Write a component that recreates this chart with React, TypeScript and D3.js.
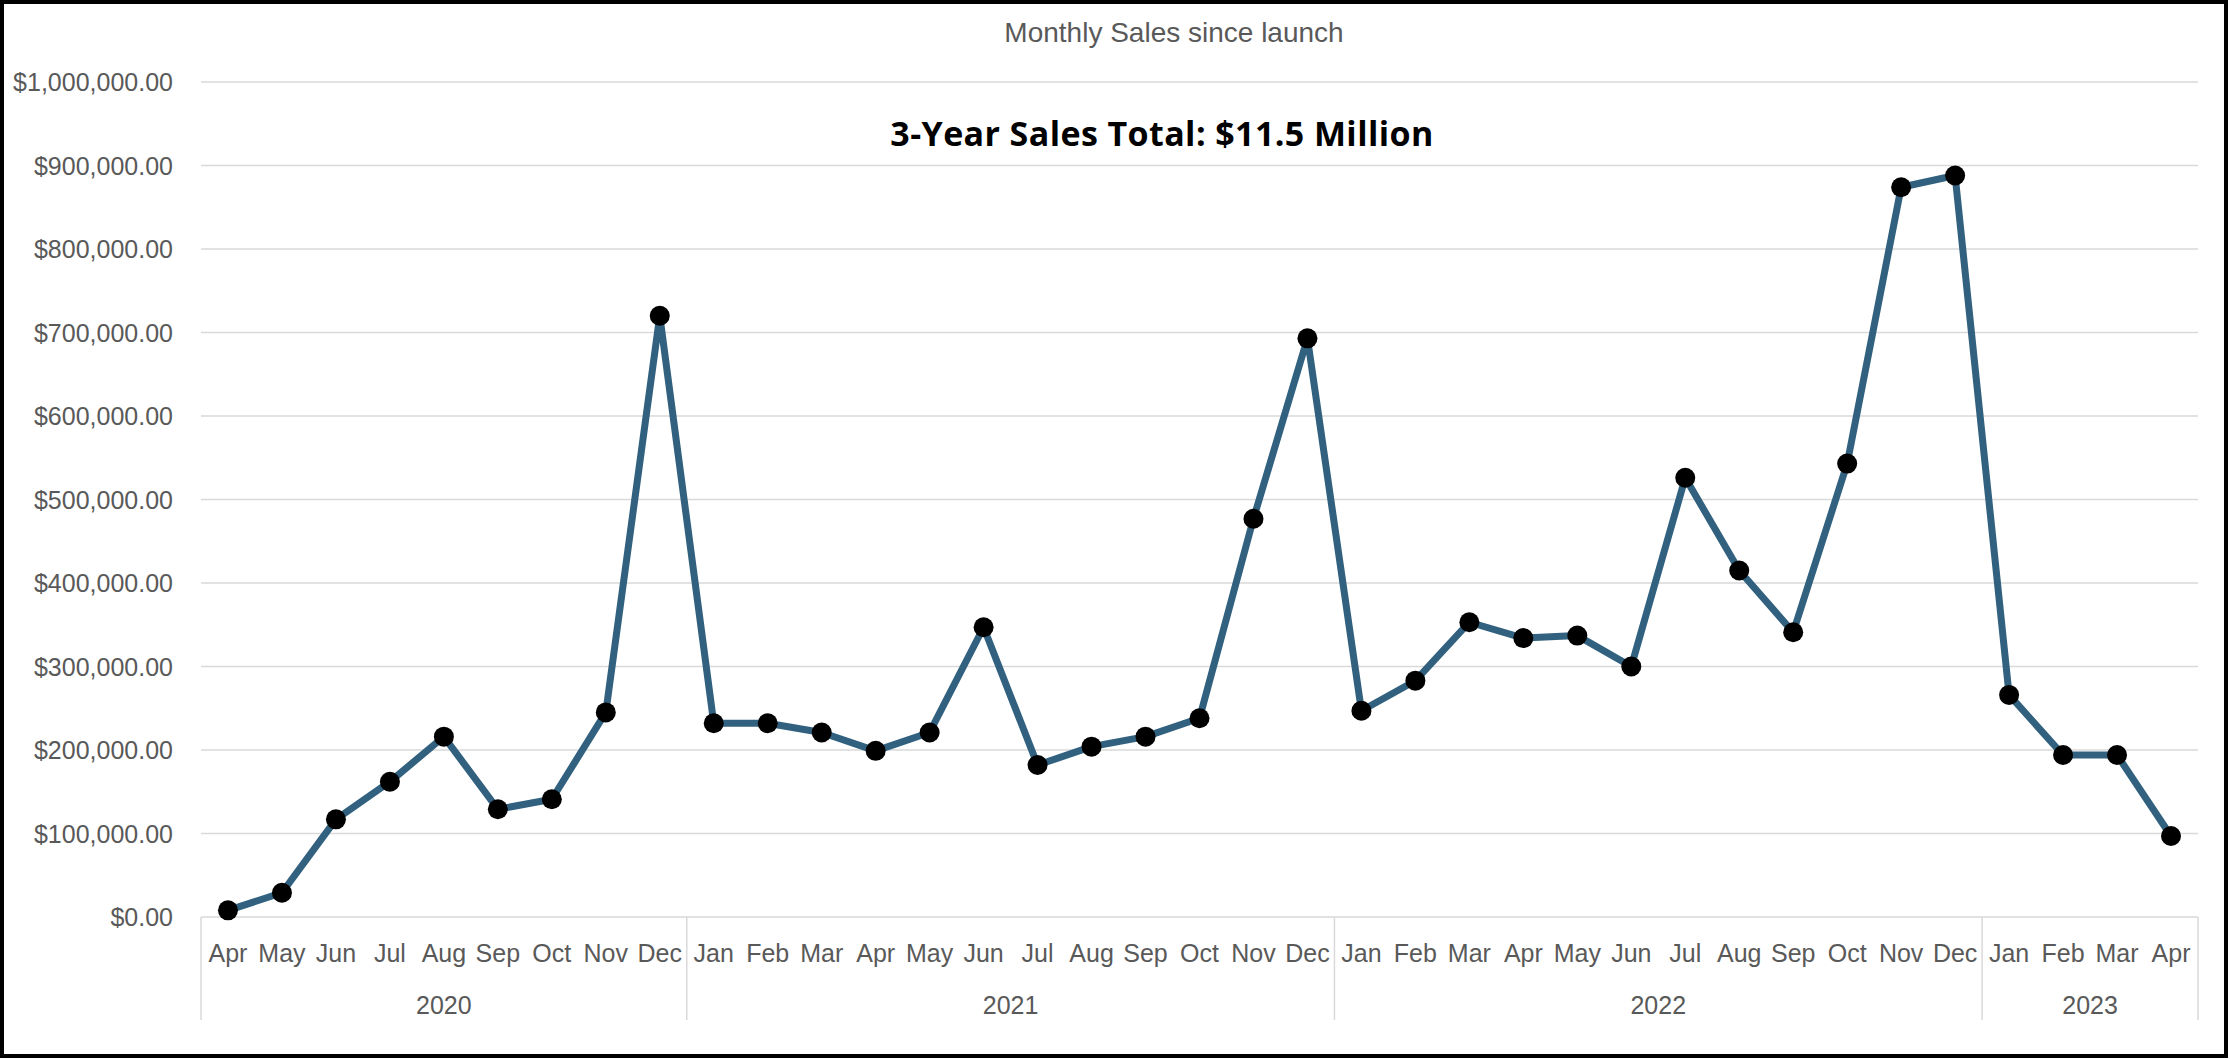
import React from "react";
import * as d3 from "d3";

const months = ["Apr","May","Jun","Jul","Aug","Sep","Oct","Nov","Dec","Jan","Feb","Mar","Apr","May","Jun","Jul","Aug","Sep","Oct","Nov","Dec","Jan","Feb","Mar","Apr","May","Jun","Jul","Aug","Sep","Oct","Nov","Dec","Jan","Feb","Mar","Apr"];
const years = ["2020","2021","2022","2023"];
const yearMonthCounts = [9, 12, 12, 4];
const sales = [8000,29000,117000,162000,216000,129000,141000,245000,720000,232000,232000,221000,199000,221000,347000,182000,204000,216000,238000,477000,693000,247000,283000,353000,334000,337000,300000,526000,415000,341000,543000,874000,888000,266000,194000,194000,97000];
const yTicks = [0,100000,200000,300000,400000,500000,600000,700000,800000,900000,1000000];
const chartTitle = "Monthly Sales since launch";
const annotation = "3-Year Sales Total: $11.5 Million";

const W = 2230, H = 1060;
const left = 201, right = 2198, top = 82, bottom = 917;

export default function App() {
  const idx = months.map((_, i) => String(i));
  const x = d3.scaleBand<string>().domain(idx).range([left, right]);
  const y = d3.scaleLinear().domain([0, 1000000]).range([bottom, top]);
  const fmt = (v: number) => "$" + d3.format(",.2f")(v);
  const line = d3.line<number>().x((_, i) => x(String(i))! + x.bandwidth() / 2).y(d => y(d));
  const font = "'Liberation Sans', Arial, sans-serif";
  const gray = "#595959";
  const bounds: number[] = [0];
  yearMonthCounts.forEach((c, i) => bounds.push(bounds[i] + c));
  const bx = (k: number) => left + k * x.step();
  return (
    <svg width={W} height={H} style={{ position: "absolute", left: 0, top: 0, background: "#fff" }}>
      <rect x={2} y={2} width={W - 6} height={H - 6} fill="#fff" stroke="#000" strokeWidth={4} />
      <text x={1174} y={32} textAnchor="middle" dominantBaseline="central" fontFamily={font} fontSize={28} fill={gray}>{chartTitle}</text>
      {yTicks.map(t => (
        <g key={t}>
          <line x1={left} x2={right} y1={y(t)} y2={y(t)} stroke="#d9d9d9" strokeWidth={1.5} />
          <text x={173} y={y(t)} textAnchor="end" dominantBaseline="central" fontFamily={font} fontSize={25} fill={gray}>{fmt(t)}</text>
        </g>
      ))}
      {bounds.map((b, i) => (
        <line key={"s" + i} x1={bx(b)} x2={bx(b)} y1={bottom} y2={1020} stroke="#d9d9d9" strokeWidth={1.5} />
      ))}
      {months.map((m, i) => (
        <text key={"m" + i} x={x(String(i))! + x.bandwidth() / 2} y={953} textAnchor="middle" dominantBaseline="central" fontFamily={font} fontSize={25} fill={gray}>{m}</text>
      ))}
      {years.map((yr, i) => (
        <text key={yr} x={(bx(bounds[i]) + bx(bounds[i + 1])) / 2} y={1005} textAnchor="middle" dominantBaseline="central" fontFamily={font} fontSize={25} fill={gray}>{yr}</text>
      ))}
      <text x={1162} y={133} textAnchor="middle" dominantBaseline="central" fontFamily="'Open Sans', Lato, sans-serif" fontWeight={700} fontSize={34} letterSpacing={0.4} fill="#000">{annotation}</text>
      <path d={line(sales) || ""} fill="none" stroke="#31617f" strokeWidth={7} strokeLinejoin="round" />
      {sales.map((v, i) => (
        <circle key={"c" + i} cx={x(String(i))! + x.bandwidth() / 2} cy={y(v)} r={10} fill="#000" />
      ))}
    </svg>
  );
}
